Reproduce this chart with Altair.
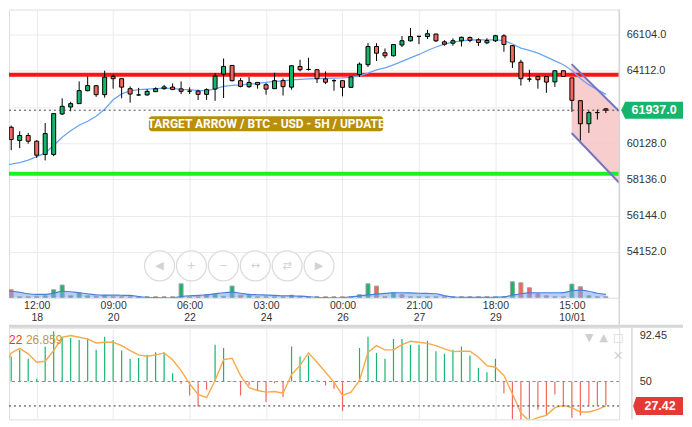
import json
import altair as alt
import pandas as pd

# ---------------- data ----------------
opens = [59450, 61000, 60272, 60546, 60234, 59505, 59505, 61729, 62112, 62298,
         63010, 63284, 62791, 63793, 63667, 63119, 62775, 62775, 62955, 63119,
         63207, 63108, 62983, 62988, 62807, 63097, 63919, 64395, 63558, 63229,
         63464, 63338, 63119, 63558, 63202, 64341, 64176, 64160, 63656, 63558,
         63558, 63191, 63886, 64434, 65436, 65091, 64926, 65518, 65748, 65994,
         65983, 66120, 65693, 65617, 65748, 65929, 65803, 65638, 65748, 66022,
         65480, 64576, 63645, 63793, 63793, 63492, 64105, 63711, 62462, 61192,
         61805, 62010]
highs = [61236, 61093, 60781, 60688, 60288, 61230, 61783, 62588, 62397, 63519,
         63793, 63300, 64105, 63903, 63680, 63245, 63163, 63097, 63191, 63327,
         63410, 63519, 63191, 63065, 63136, 63974, 64779, 64423, 63700, 63766,
         63481, 63426, 63996, 63684, 64395, 64707, 64817, 64176, 64067, 63640,
         63580, 63780, 64560, 65617, 65617, 65326, 65562, 66011, 66449, 66010,
         66350, 66137, 65781, 65885, 65983, 65983, 65890, 65890, 66076, 66109,
         65518, 64707, 64160, 63820, 63810, 64110, 64110, 63720, 62470, 61893,
         61970, 62050]
lows = [58958, 59741, 59850, 60097, 59319, 59177, 59412, 61668, 61876, 62287,
        62972, 62670, 62627, 63119, 62588, 62353, 62720, 62736, 62933, 63065,
        63043, 62824, 62824, 62495, 62506, 62451, 62605, 63519, 63191, 63163,
        63119, 62791, 63100, 62742, 63065, 64067, 64111, 63426, 63371, 63010,
        62698, 63163, 63766, 64313, 64642, 64795, 64888, 65408, 65710, 65562,
        65847, 65682, 65480, 65480, 65436, 65671, 65463, 65562, 65682, 65146,
        64258, 63289, 63492, 63119, 62890, 63218, 63793, 61849, 60272, 60688,
        61422, 61780]
closes = [60962, 60327, 60546, 60234, 59467, 60655, 61750, 62150, 62298, 63015,
          63289, 62791, 63755, 63667, 63202, 62824, 62775, 62972, 63119, 63218,
          63070, 62972, 62983, 62807, 63065, 63809, 64341, 63558, 63245, 63464,
          63338, 63097, 63558, 63229, 64379, 64160, 64176, 63667, 63475, 63558,
          63191, 63766, 64467, 65436, 65069, 64926, 65545, 65753, 65983, 65994,
          66137, 65748, 65562, 65753, 65940, 65775, 65655, 65764, 66027, 65545,
          64587, 63667, 63645, 63612, 63481, 64105, 63793, 62479, 61192, 61805,
          61805, 61937]
ma_values = [58903, 58974, 59056, 59193, 59385, 59576, 60015, 60453, 60809, 61110,
             61329, 61603, 61986, 62506, 62835, 62999, 63065, 63092, 63119, 63147,
             63136, 63081, 63065, 63010, 63010, 63108, 63245, 63300, 63327, 63366,
             63410, 63464, 63519, 63546, 63601, 63629, 63656, 63667, 63684, 63694,
             63711, 63749, 63820, 63974, 64149, 64259, 64423, 64614, 64806, 64998,
             65217, 65408, 65562, 65682, 65748, 65792, 65803, 65803, 65803, 65764,
             65573, 65343, 65217, 65069, 64861, 64642, 64434, 64122, 63684, 63327,
             63065, 62807]
volumes = [2070, 800, 100, 100, 150, 200, 800, 1270, 200, 500,
           200, 150, 240, 100, 100, 100, 100, 100, 100, 100,
           100, 1400, 100, 100, 300, 400, 150, 1170, 250, 300,
           100, 100, 100, 100, 250, 100, 100, 100, 100, 100,
           100, 100, 300, 1400, 1170, 100, 500, 330, 100, 100,
           100, 100, 100, 100, 100, 100, 100, 100, 100, 100,
           1600, 1500, 1000, 400, 200, 100, 100, 1370, 1100, 200,
           100, 100]
vol_dirs = ("ududduuuuu" "ududdduuuu" "duuduuuudu" "ddudududdu"
            "duuudduduu" "udduudduud" "uddddududu" "ud")
vol_ma = [670, 650, 550, 400, 340, 340, 450, 650, 600, 500,
          400, 300, 270, 260, 250, 240, 120, 50, 20, 0,
          0, 120, 200, 240, 300, 400, 500, 570, 450, 340,
          300, 270, 240, 200, 180, 170, 100, 50, 20, 0,
          0, 100, 180, 280, 360, 430, 500, 500, 480, 450,
          430, 400, 200, 70, 50, 40, 30, 30, 50, 80,
          250, 400, 480, 500, 500, 500, 520, 700, 770, 650,
          450, 340]
osc_bars = [83.1, 73, 79.2, 70.9, 52.5, 82.2, 96.3, 91.4, 90.2, 88.4,
            89.3, 79.2, 91.4, 88.4, 78.5, 70.9, 71.8, 74.6, 77, 77,
            57.6, 47.9, 37.1, 27, 42.4, 84, 81, 50.5, 37.1, 46.3,
            41.7, 31, 48.4, 35.6, 82.2, 73, 73.9, 51.6, 46.3, 43.3,
            22.7, 50.5, 81, 91.4, 76.4, 70.9, 89.3, 89.3, 84, 84,
            87.7, 77.9, 75.5, 79.2, 82.2, 73.9, 62.6, 58.6, 70.9, 39.2,
            15, 12.6, 14.8, 24, 18.7, 38, 27, 16.6, 18.7, 27.9,
            27.9, 27.9]
osc_line = [60, 76.4, 80.6, 75.5, 67.8, 68.7, 78.5, 90.8, 92.45, 90.8,
            89.3, 85.6, 86.2, 86.2, 83.1, 78.5, 74.6, 73.3, 74.6, 76.4,
            70, 60.1, 47.9, 38, 35, 50.9, 70.2, 71.4, 55.5, 44.2,
            41.7, 40.2, 40.8, 39.2, 56.4, 64.7, 76.4, 67.8, 58.6, 49.4,
            37.1, 40.2, 50.9, 77, 83.1, 79.2, 79.2, 84, 87.1, 86.2,
            85.2, 83.1, 80.1, 77.6, 77.9, 77.9, 72.4, 64.7, 63.2, 55.5,
            38.7, 20.8, 13.5, 16.6, 18.7, 25.8, 27.9, 25.8, 21.8, 21.8,
            24, 27.42]

time_ticks = [4, 13, 22, 31, 40, 49, 58, 67]
time_labels = ["12:00", "09:00", "06:00", "03:00", "00:00", "21:00", "18:00", "15:00"]
date_labels = ["18", "20", "22", "24", "26", "27", "29", "10/01"]
price_ticks = [66104, 64112, 62120, 60128, 58136, 56144, 54152]
osc_ticks = [50, 92.45]

resistance = 63886
support = 58446
last_price = 61937.0
osc_mid = 50
last_osc = 27.42
channel_x = [66.97, 72.57]
channel_upper = [64467, 61876]
channel_lower = [60688, 57950]
title_text = "TARGET ARROW / BTC - USD - 5H / UPDATE"
title_at = [31.0, 61190]
osc_texts = ["22", "26.859"]
nav_glyphs = ["◀", "+", "−", "↔", "⇄", "▶"]
panel_icons = ["▼", "▲", "□"]

# ---------------- styles ----------------
W = 612
H_MAIN = 289
H_OSC = 92
RIGHT = 676          # last usable pixel column (plot coordinates)
X_DOM = [0.74, 72.57]
P_DOM = [51636, 67462]
V_DOM = [0, 28900]
O_DOM = [15.0, 99.7]
X_PER_PX = (X_DOM[1] - X_DOM[0]) / W
P_PER_PX = (P_DOM[1] - P_DOM[0]) / H_MAIN
GREEN = "#13b86d"
RED = "#f2665f"
FONT = "Liberation Sans"
GRID = "#ebebeb"
SEP = "#d6d6d6"


def badge_path(tip, left, right, hh, half):
    return (f"M{tip / half},0 L{left / half},{-hh / half} L{right / half},{-hh / half} "
            f"L{right / half},{hh / half} L{left / half},{hh / half} Z")


labels_js = json.dumps([[t, d] for t, d in zip(time_labels, date_labels)])
x_axis_main = alt.Axis(values=time_ticks, labelExpr=f"{labels_js}[indexof({json.dumps(time_ticks)}, datum.value)]",
                       grid=True, gridColor=GRID, domain=False, ticks=False,
                       labelFont=FONT, labelFontSize=10.5, labelColor="#333333",
                       labelPadding=3, labelBaseline="top", labelLineHeight=11.5,
                       labelFlush=False, labelOverlap=False, title=None)
y_axis_main = alt.Axis(orient="right", values=price_ticks,
                       labelExpr=f"abs(datum.value - {last_price}) < 500 ? '' : format(datum.value, '.1f')",
                       grid=True, gridColor=GRID, domain=False, ticks=False,
                       labelFont=FONT, labelFontSize=11, labelColor="#333333",
                       labelPadding=7, labelFlush=False, labelOverlap=False, title=None)
x_axis_osc = alt.Axis(values=time_ticks, labels=False, ticks=False, domain=False, grid=True,
                      gridColor=GRID, title=None)
y_axis_osc = alt.Axis(orient="right", values=osc_ticks,
                      labelExpr=f"datum.value == {osc_mid} ? '{osc_mid}' : format(datum.value, '.2f')",
                      grid=False, domain=False, ticks=False, labelFont=FONT, labelFontSize=11,
                      labelColor="#333333", labelPadding=20, labelFlush=False, labelOverlap=False,
                      title=None)

XS = alt.Scale(domain=X_DOM, nice=False, zero=False, padding=0)


def xm(field):
    return alt.X(f"{field}:Q", scale=XS, axis=x_axis_main, title=None)


def xo(field):
    return alt.X(f"{field}:Q", scale=XS, axis=x_axis_osc, title=None)


def yp(field, axis=None):
    return alt.Y(f"{field}:Q", scale=alt.Scale(domain=P_DOM, nice=False, zero=False, padding=0),
                 axis=axis, title=None)


def yf(field):
    return yp(field, y_axis_main)


def yo(field):
    return alt.Y(f"{field}:Q", scale=alt.Scale(domain=O_DOM, nice=False, zero=False, padding=0),
                 axis=y_axis_osc, title=None)


n = len(opens)
idx = list(range(n))
dirs = ["up" if c > o else ("down" if c < o else "flat") for o, c in zip(opens, closes)]
candles = pd.DataFrame({"i": idx, "open": opens, "high": highs, "low": lows,
                        "close": closes, "dir": dirs, "ma": ma_values})
vol_df = pd.DataFrame({"i": idx, "vol": volumes,
                       "dir": ["up" if d == "u" else "down" for d in vol_dirs],
                       "vma": vol_ma})
chan_df = pd.DataFrame({"x": channel_x, "upper": channel_upper, "lower": channel_lower})
one = pd.DataFrame({"a": [0]})

color_dir = alt.Color("dir:N", scale=alt.Scale(domain=["up", "down", "flat"],
                                               range=[GREEN, RED, "#000000"]), legend=None)


def glyph(text, px, py, size=11, color="#d2d2d2", weight="normal"):
    return alt.Chart(one).mark_text(text=text, font="DejaVu Sans", fontSize=size, color=color,
                                    fontWeight=weight, align="center", baseline="middle").encode(
        x=alt.value(px), y=alt.value(py))


def band(x0, x1, y0, y1, color):
    return alt.Chart(one).mark_rect(color=color).encode(
        x=alt.value(x0), x2=alt.value(x1), y=alt.value(y0), y2=alt.value(y1))


def level(price, color, px_thick):
    half = px_thick / 2 * P_PER_PX
    return alt.Chart(pd.DataFrame({"lo": [price - half], "hi": [price + half]})).mark_rect(
        color=color).encode(y=yp("lo"), y2="hi:Q")


# ---- back price layer (no axis) ----
ch_fill = alt.Chart(chan_df).mark_area(color="#f7c4c4", opacity=0.85, clip=True).encode(
    x=xm("x"), y=yp("upper"), y2="lower:Q")
res_band = level(resistance, "#ff1414", 4)
sup_band = level(support, "#1ff01f", 4)
ma_line = alt.Chart(candles).mark_line(color="#6aa4f6", strokeWidth=1.3, clip=True).encode(x=xm("i"), y=yp("ma"))
back = alt.layer(ch_fill, res_band, sup_band, ma_line)

# ---- volume layer ----
vscale = alt.Scale(domain=V_DOM, nice=False, zero=True, padding=0)
vol_bars = alt.Chart(vol_df).mark_bar(size=4, stroke="#a0a0a0", strokeWidth=1, clip=True).encode(
    x=xm("i"), y=alt.Y("vol:Q", scale=vscale, axis=None, title=None), color=color_dir)
vol_area = alt.Chart(vol_df).mark_area(interpolate="monotone", color="#7fa6ec", opacity=0.55, clip=True,
                                       line=alt.OverlayMarkDef(color="#4a7de0", strokeWidth=1.2, opacity=1)).encode(
    x=xm("i"), y=alt.Y("vma:Q", scale=vscale, axis=None, title=None))
vol = alt.layer(vol_bars, vol_area)

# ---- front price layer (carries the axes) ----
wicks = alt.Chart(candles).mark_rule(color="#000000", strokeWidth=1, clip=True).encode(
    x=xm("i"), y=yf("low"), y2="high:Q")
bodies = alt.Chart(candles).mark_bar(size=4, stroke="#000000", strokeWidth=1, clip=True).encode(
    x=xm("i"), y=yf("open"), y2="close:Q", color=color_dir)
ch_up = alt.Chart(chan_df).mark_line(color="#7575c6", strokeWidth=2, clip=True).encode(x=xm("x"), y=yf("upper"))
ch_lo = alt.Chart(chan_df).mark_line(color="#7575c6", strokeWidth=2, clip=True).encode(x=xm("x"), y=yf("lower"))
cur_rule = alt.Chart(pd.DataFrame({"p": [last_price]})).mark_rule(
    color="#444444", strokeDash=[2, 3], strokeWidth=1, clip=True).encode(y=yf("p"))
tw, th = 235 / 2 * X_PER_PX, 15 / 2 * P_PER_PX
title_df = pd.DataFrame({"x": [title_at[0]], "y": [title_at[1]], "t": [title_text],
                         "x0": [title_at[0] - tw], "x1": [title_at[0] + tw],
                         "y0": [title_at[1] - th], "y1": [title_at[1] + th]})
title_box = alt.Chart(title_df).mark_rect(color="#b98e0b", cornerRadius=3).encode(
    x=xm("x0"), x2="x1:Q", y=yf("y0"), y2="y1:Q")
title_txt = alt.Chart(title_df).mark_text(color="white", font="Roboto", fontWeight="bold", fontSize=12,
                                          baseline="middle", align="center").encode(
    x=xm("x"), y=yf("y"), text="t:N")
price_df = pd.DataFrame({"p": [last_price], "t": [f"{last_price:.1f}"]})
badge = alt.Chart(price_df).mark_point(shape=badge_path(-31, -27, 31, 8.5, 31), size=62 ** 2,
                                       filled=True, color="#17b56c", opacity=1).encode(
    x=alt.value(RIGHT - 31), y=yf("p"))
badge_txt = alt.Chart(price_df).mark_text(color="white", font=FONT, fontWeight="bold", fontSize=12.5,
                                          align="center", baseline="middle").encode(
    x=alt.value(RIGHT - 29), y=yf("p"), text="t:N")
nav_layers = []
for k, g in enumerate(nav_glyphs):
    cx = 151 + 32 * k
    nav_layers.append(alt.Chart(one).mark_point(shape="circle", size=900, filled=True, fill="white",
                                                stroke="#dcdcdc", strokeWidth=1.3, opacity=1,
                                                fillOpacity=0.6).encode(x=alt.value(cx), y=alt.value(257)))
    nav_layers.append(glyph(g, cx, 257))
sep_h = band(0, RIGHT, 316, 319, SEP)
sep_v = band(611.3, 612.8, 0, 316, SEP)
front = alt.layer(wicks, bodies, ch_up, ch_lo, cur_rule, title_box, title_txt, *nav_layers,
                  badge, badge_txt, sep_h, sep_v)

main = alt.layer(back, vol, front).resolve_scale(y="independent").properties(width=W, height=H_MAIN)

# ---------------- oscillator panel ----------------
osc_df = pd.DataFrame({"i": idx, "bar": osc_bars, "base": [osc_mid] * n,
                       "sign": ["pos" if b >= osc_mid else "neg" for b in osc_bars],
                       "line": osc_line})
mid_rule = alt.Chart(pd.DataFrame({"v": [osc_mid]})).mark_rule(
    color="#8a8a8a", strokeDash=[3, 3], strokeWidth=1, clip=True).encode(y=yo("v"))
hist = alt.Chart(osc_df).mark_rule(strokeWidth=1.2, clip=True).encode(
    x=xo("i"), y=yo("bar"), y2="base:Q",
    color=alt.Color("sign:N", scale=alt.Scale(domain=["pos", "neg"], range=["#4f9a6b", "#e8262a"]), legend=None))
oline = alt.Chart(osc_df).mark_line(color="#f8aa4a", strokeWidth=1.4, clip=True).encode(x=xo("i"), y=yo("line"))
cur_osc = alt.Chart(pd.DataFrame({"v": [last_osc]})).mark_rule(
    color="#333333", strokeDash=[2, 3], strokeWidth=1, clip=True).encode(y=yo("v"))
t1 = alt.Chart(one).mark_text(text=osc_texts[0], align="left", baseline="middle", font=FONT, fontSize=12,
                              color="#e53935").encode(x=alt.value(0), y=alt.value(12))
t2 = alt.Chart(one).mark_text(text=osc_texts[1], align="left", baseline="middle", font=FONT, fontSize=12,
                              color="#c9924a").encode(x=alt.value(17), y=alt.value(12))
icon_layers = [glyph(g, 582 + 14.5 * k, 10, color="#cfcfcf") for k, g in enumerate(panel_icons)]
close_x = glyph("✕", 611, 28, size=13, color="#d4d4d4", weight="bold")
osc_lab = pd.DataFrame({"v": [last_osc], "t": [f"{last_osc:.2f}"]})
obadge = alt.Chart(osc_lab).mark_point(shape=badge_path(-25, -22, 25, 9, 25), size=50 ** 2,
                                       filled=True, color="#e53935", opacity=1).encode(
    x=alt.value(RIGHT - 25), y=yo("v"))
obadge_txt = alt.Chart(osc_lab).mark_text(color="white", font=FONT, fontWeight="bold", fontSize=12.5,
                                          align="center", baseline="middle").encode(
    x=alt.value(RIGHT - 23), y=yo("v"), text="t:N")
osep_v = band(624, 625.5, 0, H_OSC, SEP)

osc = alt.layer(hist, mid_rule, oline, cur_osc, t1, t2, *icon_layers, close_x, obadge, obadge_txt,
                osep_v).properties(width=W, height=H_OSC)

chart = alt.vconcat(main, osc, spacing=30, bounds="flush").properties(
    padding=0
).configure_view(stroke=None).configure(background="white")

chart.save("out.html", embed_options={"renderer": "svg", "actions": False})
